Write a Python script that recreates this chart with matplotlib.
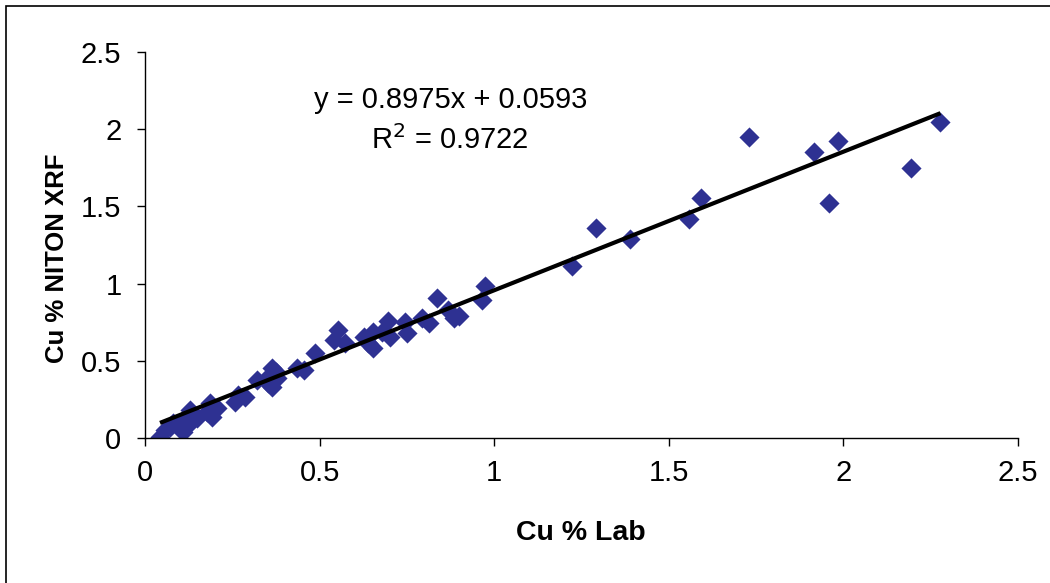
import matplotlib
matplotlib.use("Agg")
import matplotlib.pyplot as plt
from matplotlib.patches import Rectangle
import numpy as np

plt.rcParams['font.family'] = ['Liberation Sans', 'DejaVu Sans']

cu_lab = [0.043, 0.057, 0.072, 0.081, 0.110, 0.115, 0.124, 0.129, 0.148, 0.177,
          0.186, 0.191, 0.205, 0.258, 0.267, 0.287, 0.320, 0.349, 0.353, 0.363,
          0.375, 0.363, 0.377, 0.435, 0.454, 0.487, 0.540, 0.554, 0.573, 0.626,
          0.640, 0.654, 0.654, 0.678, 0.697, 0.702, 0.745, 0.750, 0.793, 0.812,
          0.836, 0.869, 0.898, 0.885, 0.965, 0.974, 1.223, 1.292, 1.390, 1.557,
          1.592, 1.731, 1.915, 1.960, 1.985, 2.194, 2.278]
cu_xrf = [0.008, 0.052, 0.073, 0.095, 0.040, 0.127, 0.084, 0.181, 0.127, 0.170,
          0.225, 0.138, 0.192, 0.235, 0.278, 0.268, 0.376, 0.387, 0.356, 0.455,
          0.430, 0.332, 0.390, 0.451, 0.440, 0.548, 0.635, 0.699, 0.613, 0.656,
          0.613, 0.581, 0.688, 0.688, 0.760, 0.656, 0.753, 0.678, 0.775, 0.747,
          0.905, 0.829, 0.790, 0.775, 0.894, 0.984, 1.114, 1.362, 1.289, 1.416,
          1.552, 1.951, 1.850, 1.520, 1.924, 1.751, 2.049]
slope = 0.8975
intercept = 0.0593
r2 = 0.9722
x_ticks = [0, 0.5, 1, 1.5, 2, 2.5]
y_ticks = [0, 0.5, 1, 1.5, 2, 2.5]
x_tick_labels = ["0", "0.5", "1", "1.5", "2", "2.5"]
y_tick_labels = ["0", "0.5", "1", "1.5", "2", "2.5"]

W, H = 1050, 583
fig = plt.figure(figsize=(10.5, 5.83), dpi=100)
ax = fig.add_axes([145/W, 1 - 438/H, (1018 - 145)/W, (438 - 52)/H])

ax.scatter(cu_lab, cu_xrf, marker='D', s=105, color='#2E3192', linewidths=0, zorder=2)

xl = np.array([min(cu_lab), max(cu_lab)])
ax.plot(xl, slope * xl + intercept, color='black', lw=3, zorder=3, solid_capstyle='butt')

ax.set_xlim(0, 2.5)
ax.set_ylim(0, 2.5)
ax.set_xticks(x_ticks)
ax.set_xticklabels(x_tick_labels)
ax.set_yticks(y_ticks)
ax.set_yticklabels(y_tick_labels)
for s in ['top', 'right']:
    ax.spines[s].set_visible(False)
for s in ['left', 'bottom']:
    ax.spines[s].set_linewidth(1.0)
ax.tick_params(axis='both', direction='out', length=6, width=1, labelsize=21)
ax.tick_params(axis='x', pad=9)
ax.tick_params(axis='y', pad=11)

fig.text(581/W, 1 - 533/H, "Cu % Lab", fontsize=20.5, fontweight='bold',
         ha='center', va='center')
fig.text(57/W, 1 - 258/H, "Cu % NITON XRF", fontsize=18.5, fontweight='bold',
         ha='center', va='center', rotation=90)

ax.text(0.874, 2.19, "y = 0.8975x + 0.0593", fontsize=21, ha='center', va='center')
ax.text(0.874, 1.93, "R$^2$ = %.4f" % r2, fontsize=21, ha='center', va='center')

fig.patches.append(Rectangle((6/W, -0.05), 1.2, 1 - 6/H + 0.05,
                             transform=fig.transFigure, fill=False,
                             edgecolor='black', lw=1.2))

fig.savefig("out.png", dpi=100)
